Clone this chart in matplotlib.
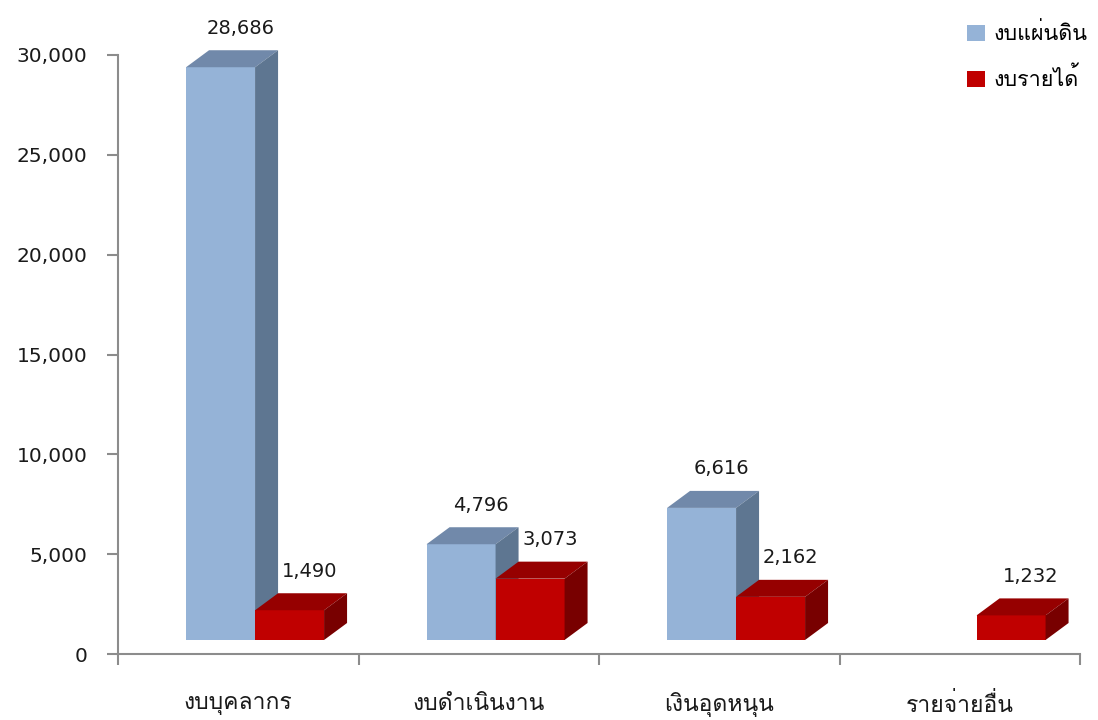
import matplotlib
matplotlib.use('Agg')
import matplotlib.pyplot as plt
from matplotlib import font_manager, ft2font
from matplotlib.patches import Polygon, Patch

categories = ['งบบุคลากร', 'งบดำเนินงาน', 'เงินอุดหนุน', 'รายจ่ายอื่น']
series_names = ['งบแผ่นดิน', 'งบรายได้']
land_budget = [28686, 4796, 6616, None]
income_budget = [1490, 3073, 2162, 1232]
y_ticks = [0, 5000, 10000, 15000, 20000, 25000, 30000]


def thai_font():
    # หาฟอนต์ที่มีอักษรไทย
    found = []
    for f in font_manager.fontManager.ttflist:
        try:
            if 0x0E07 in ft2font.FT2Font(f.fname).get_charmap():
                found.append(f.name)
        except Exception:
            pass
    for name in found:
        if 'Sans' in name or 'Loma' in name or 'Garuda' in name:
            return name
    return found[0] if found else 'DejaVu Sans'


THAI = thai_font()
FAM = [THAI, 'DejaVu Sans']

fig = plt.figure(figsize=(10.98, 7.2), dpi=100)
ax = fig.add_axes([118 / 1098, 66 / 720, 962 / 1098, 599 / 720])
ax.set_xlim(0, 4)
ax.set_ylim(0, 30000)

px_x = 4 / 962
px_y = 30000 / 599
width = 69 * px_x
dx = 23 * px_x
dy = 17 * px_y
base = 14 * px_y

colors = [('#95B3D7', '#7189AA', '#5E7691'), ('#C00000', '#960000', '#780000')]


def draw_bar(x0, v, cols):
    b = base
    front, top, side = cols
    shapes = [
        ([(x0, b), (x0 + width, b), (x0 + width, b + v), (x0, b + v)], front),
        ([(x0, b + v), (x0 + dx, b + v + dy), (x0 + width + dx, b + v + dy), (x0 + width, b + v)], top),
        ([(x0 + width, b), (x0 + width + dx, b + dy), (x0 + width + dx, b + v + dy), (x0 + width, b + v)], side),
    ]
    for pts, c in shapes:
        ax.add_patch(Polygon(pts, closed=True, facecolor=c, edgecolor='none', clip_on=False))
    ax.text(x0 + width / 2 + 20 * px_x, b + v + dy + 22 * px_y, f'{v:,}',
            ha='center', va='center', fontsize=14, color='#1a1a1a', family='DejaVu Sans')


for i in range(len(categories)):
    x0 = i + 0.283
    for j, vals in enumerate([land_budget, income_budget]):
        v = vals[i]
        if v is not None:
            draw_bar(x0 + j * width, v, colors[j])

for s in ['top', 'right']:
    ax.spines[s].set_visible(False)
for s in ['left', 'bottom']:
    ax.spines[s].set_color('#8c8c8c')
    ax.spines[s].set_linewidth(1.5)

ax.set_yticks(y_ticks)
ax.set_yticklabels([f'{t:,}' for t in y_ticks], fontsize=14.5, color='#1a1a1a')
ax.tick_params(axis='y', length=8, width=1.5, color='#8c8c8c', pad=14)

ax.set_xticks([0, 1, 2, 3, 4])
ax.set_xticklabels([])
ax.tick_params(axis='x', length=8, width=1.5, color='#8c8c8c')
for i, c in enumerate(categories):
    ax.text(i + 0.5, -2550, c, ha='center', va='center', fontsize=16.5, color='#1a1a1a', family=FAM)

handles = [Patch(facecolor=colors[0][0]), Patch(facecolor=colors[1][0])]
leg = ax.legend(handles, series_names, loc='upper left', bbox_to_anchor=(948 / 1098, 716 / 720),
                bbox_transform=fig.transFigure, frameon=False, handlelength=0.8, handleheight=0.8,
                handletextpad=0.4, labelspacing=1.05, prop={'family': FAM, 'size': 15.5})

fig.savefig('out.png', dpi=100)
